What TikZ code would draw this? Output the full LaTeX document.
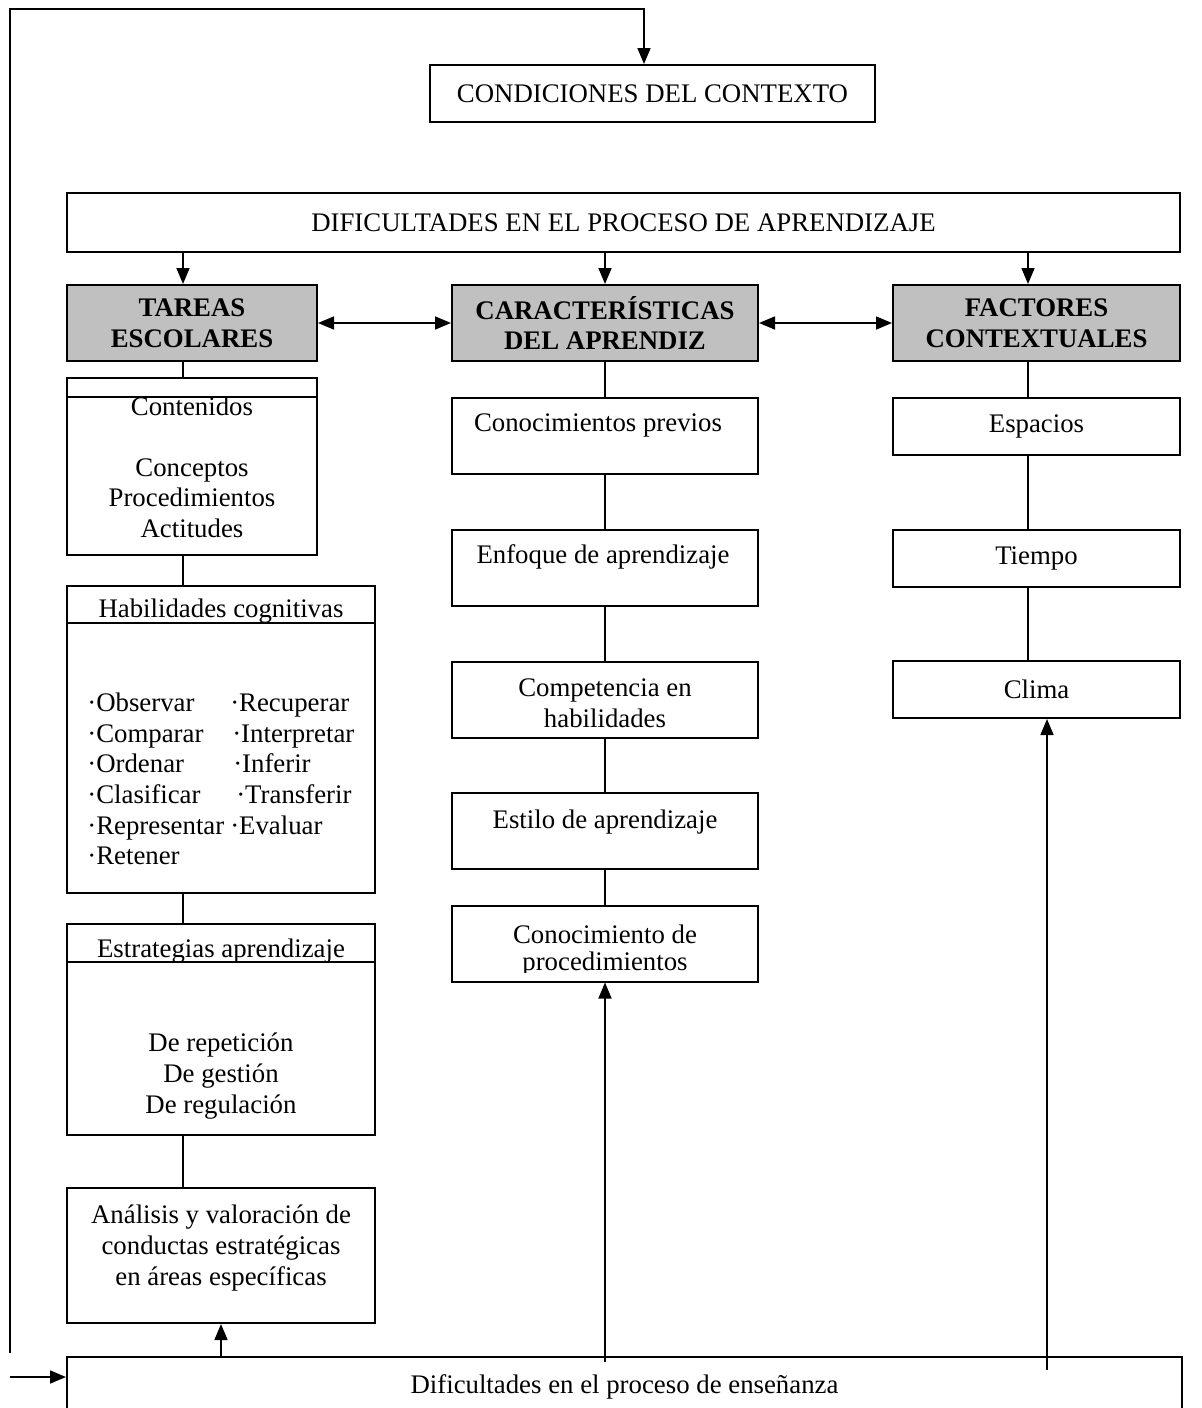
\documentclass[tikz,border=0pt]{standalone}
\usepackage{fontspec}
\setmainfont{Liberation Serif}
\usepackage{tikz}
\usetikzlibrary{arrows.meta,positioning}
\definecolor{grisbox}{RGB}{192,192,192}
\newcommand{\letra}{\fontsize{13.4}{15.3}\selectfont}

\begin{document}
\begin{tikzpicture}[x=0.5pt,y=-0.5pt,>={Triangle[length=8pt,width=6.5pt]}]
  \tikzstyle{caja}=[rectangle,draw,line width=1pt,inner sep=0pt,align=center,font=\letra]
  \tikzstyle{gris}=[caja,fill=grisbox,font=\letra\bfseries]
  \tikzstyle{texto}=[inner sep=0pt,align=center,font=\letra]
  \tikzstyle{linea}=[line width=0.8pt]
  \useasboundingbox (0,0) rectangle (1202,1408);

  \coordinate (colA) at (183,0);
  \coordinate (colB) at (605,0);
  \coordinate (colC) at (1028,0);
  \coordinate (colD) at (1047,0);
  \coordinate (colE) at (221,0);

  \node [caja,minimum width=222.5pt,minimum height=28.5pt] (contexto) at (652.5,93.5) {CONDICIONES DEL CONTEXTO};
  \node [caja,minimum width=556.5pt,minimum height=29.5pt] (difapr) at (623.5,222.5) {DIFICULTADES EN EL PROCESO DE APRENDIZAJE};

  \node [gris,minimum width=125pt,minimum height=38pt] (tareas) at (192,323) {TAREAS\\ESCOLARES};
  \node [gris,minimum width=153pt,minimum height=38pt] (aprendiz) at (605,323) {CARACTERÍSTICAS\\DEL APRENDIZ};
  \node [gris,minimum width=143.5pt,minimum height=38pt] (factores) at (1036.5,323) {FACTORES\\CONTEXTUALES};

  % columna tareas
  \node [caja,minimum width=125pt,minimum height=88.5pt] (contenidos) at (192,466.5) {};
  \draw [line width=1pt] (contenidos.west |- 0,397) -- (contenidos.east |- 0,397);
  \node [texto] (contenidosT) at (192,406) {Contenidos};
  \node [texto] (contenidosL) at (192,498) {Conceptos\\Procedimientos\\Actitudes};

  \node [caja,minimum width=154pt,minimum height=153.5pt] (habil) at (221,739.5) {};
  \draw [line width=1pt] (habil.west |- 0,623) -- (habil.east |- 0,623);
  \node [texto] (habilT) at (221,611) {Habilidades cognitivas};
  \node [texto,anchor=west] (habilL) at (87,782) {%
    \begin{tabular}{@{}l@{\hspace{3pt}}l@{}}
      ·Observar & ·Recuperar\\
      ·Comparar & \hspace{1pt}·Interpretar\\
      ·Ordenar & \hspace{1.5pt}·Inferir\\
      ·Clasificar & \hspace{3pt}·Transferir\\
      ·Representar & ·Evaluar\\
      ·Retener &
    \end{tabular}};

  \node [caja,minimum width=154pt,minimum height=105.5pt] (estrat) at (221,1029.5) {};
  \draw [line width=1pt] (estrat.west |- 0,962) -- (estrat.east |- 0,962);
  \node [texto] (estratT) at (221,951) {Estrategias aprendizaje};
  \node [texto] (estratL) at (221,1076) {De repetición\\De gestión\\De regulación};

  \node [caja,minimum width=154pt,minimum height=67.5pt] (analisis) at (221,1255.5) {};
  \node [texto] (analisisT) at (221,1248) {Análisis y valoración de\\conductas estratégicas\\en áreas específicas};

  % columna aprendiz
  \node [caja,minimum width=153pt,minimum height=38pt] (previos) at (605,436) {};
  \node [texto] (previosT) at (598,425) {Conocimientos previos};
  \node [caja,minimum width=153pt,minimum height=38pt] (enfoque) at (605,568) {};
  \node [texto] (enfoqueT) at (603,557) {Enfoque de aprendizaje};
  \node [caja,minimum width=153pt,minimum height=38pt] (compet) at (605,699.5) {};
  \node [texto] (competT) at (605,703) {Competencia en\\habilidades};
  \node [caja,minimum width=153pt,minimum height=38pt] (estilo) at (605,830.5) {};
  \node [texto] (estiloT) at (605,822) {Estilo de aprendizaje};
  \node [caja,minimum width=153pt,minimum height=38pt] (proced) at (605,943.5) {};
  \begin{scope}
    \clip (proced.north west) rectangle (proced.east |- 0,972);
    \node [texto,anchor=base] (procedA) at (605,943) {Conocimiento de};
    \node [texto,anchor=base] (procedB) at (605,970) {procedimientos};
  \end{scope}

  % columna factores
  \node [caja,minimum width=143.5pt,minimum height=28.5pt] (espacios) at (1036.5,426.5) {Espacios};
  \node [caja,minimum width=143.5pt,minimum height=28.5pt] (tiempo) at (1036.5,558.5) {Tiempo};
  \node [caja,minimum width=143.5pt,minimum height=28.5pt] (clima) at (1036.5,689.5) {Clima};

  \node [caja,minimum width=557.5pt,minimum height=30pt] (difens) at (624.5,1387) {Dificultades en el proceso de enseñanza};

  \draw [linea,->] (difapr.south -| colA) -- (tareas.north -| colA);
  \draw [linea,->] (difapr.south -| colB) -- (aprendiz.north -| colB);
  \draw [linea,->] (difapr.south -| colC) -- (factores.north -| colC);
  \draw [linea,<->] (tareas) -- (aprendiz);
  \draw [linea,<->] (aprendiz) -- (factores);

  \draw [linea] (tareas.south -| colA) -- (contenidos.north -| colA);
  \draw [linea] (contenidos.south -| colA) -- (habil.north -| colA);
  \draw [linea] (habil.south -| colA) -- (estrat.north -| colA);
  \draw [linea] (estrat.south -| colA) -- (analisis.north -| colA);

  \draw [linea] (aprendiz.south -| colB) -- (previos.north -| colB);
  \draw [linea] (previos.south -| colB) -- (enfoque.north -| colB);
  \draw [linea] (enfoque.south -| colB) -- (compet.north -| colB);
  \draw [linea] (compet.south -| colB) -- (estilo.north -| colB);
  \draw [linea] (estilo.south -| colB) -- (proced.north -| colB);

  \draw [linea] (factores.south -| colC) -- (espacios.north -| colC);
  \draw [linea] (espacios.south -| colC) -- (tiempo.north -| colC);
  \draw [linea] (tiempo.south -| colC) -- (clima.north -| colC);

  \draw [linea,->] (difens.north -| colE) -- (analisis.south -| colE);
  \draw [linea,->] (difens.north -| colB) ++(0,6) -- (proced.south -| colB);
  \draw [linea,->] (difens.north -| colD) ++(0,14) -- (clima.south -| colD);

  \coordinate (retA) at (10,1353);
  \coordinate (retB) at (644,9);
  \coordinate (retC) at (10,1377);
  \draw [linea,->] (retA) |- (retB) -- (contexto.north -| retB);
  \draw [linea,->] (retC) -- (retC -| difens.west);
\end{tikzpicture}
\end{document}
